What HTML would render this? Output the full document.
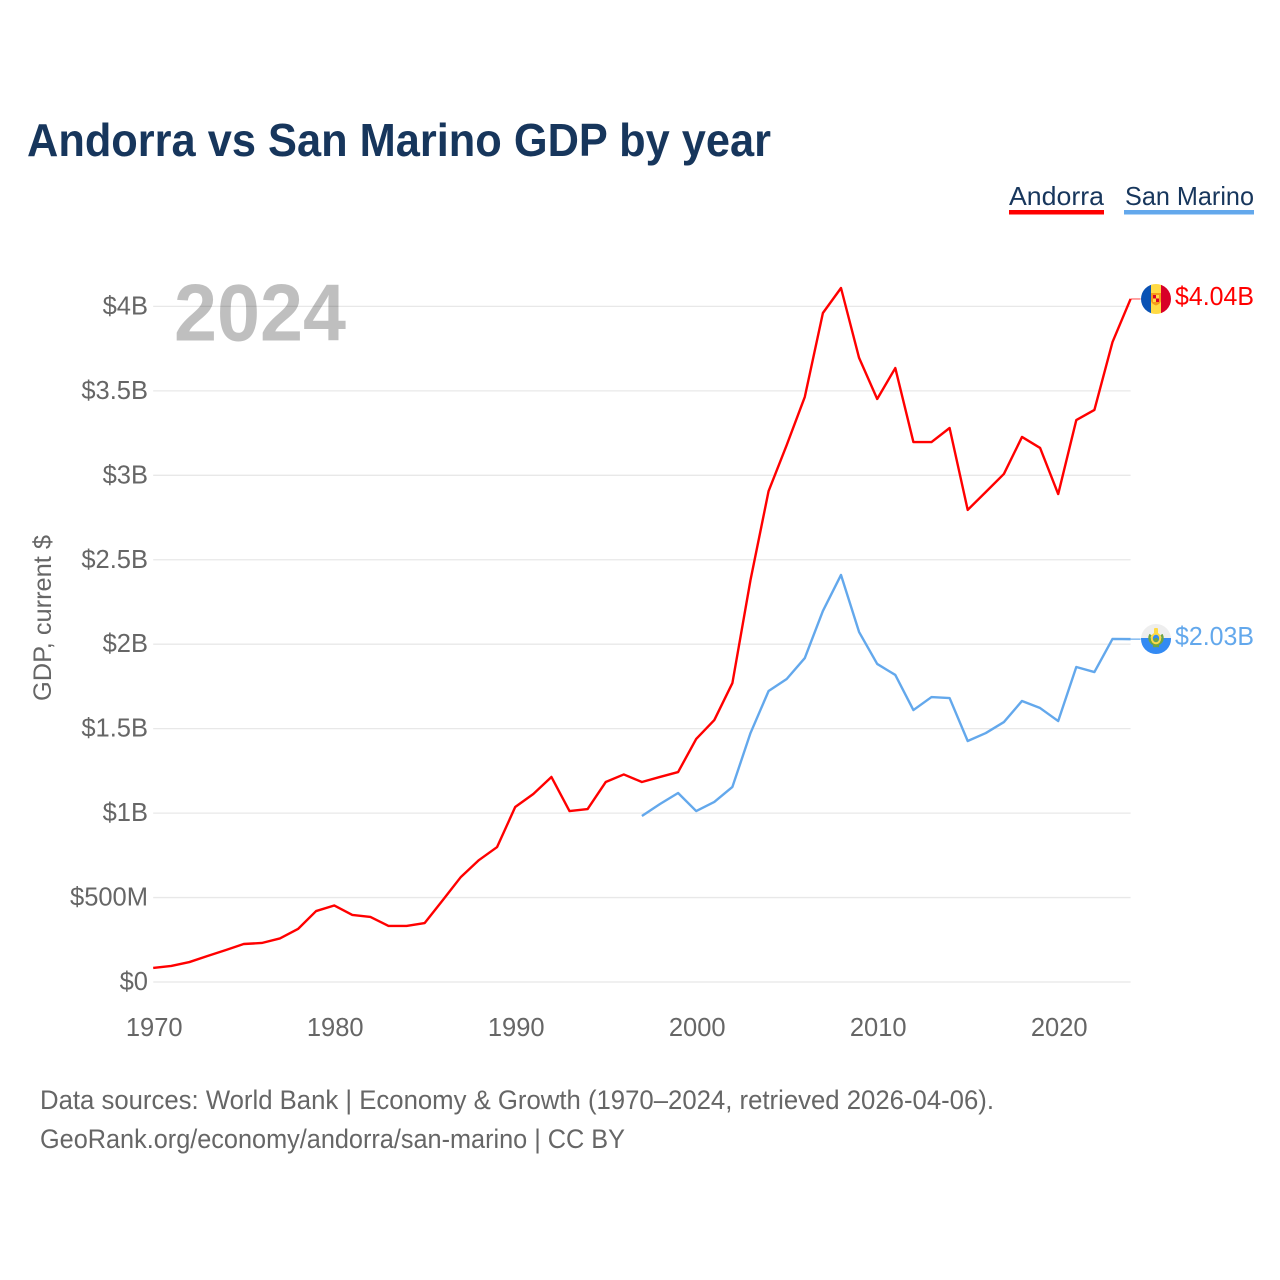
<!DOCTYPE html>
<html lang="en">
<head>
<meta charset="utf-8">
<title>Andorra vs San Marino GDP by year</title>
<style>
html,body{margin:0;padding:0;background:#fff;width:1280px;height:1280px;overflow:hidden}
svg{display:block}
text{font-family:"Liberation Sans",sans-serif}
</style>
</head>
<body>
<svg id="chart" xmlns="http://www.w3.org/2000/svg" width="1280" height="1280" viewBox="0 0 1280 1280">
  <rect width="1280" height="1280" fill="#fff"/>
  <text x="27" y="156" font-size="46" font-weight="bold" fill="#17365c" textLength="744" lengthAdjust="spacingAndGlyphs">Andorra vs San Marino GDP by year</text>

  <g>
    <text x="1009" y="205" font-size="26" fill="#17365c" textLength="95" lengthAdjust="spacingAndGlyphs">Andorra</text>
    <rect x="1009" y="210" width="95" height="4.5" fill="#ff0000"/>
  </g>
  <g>
    <text x="1125" y="205" font-size="26" fill="#17365c" textLength="129" lengthAdjust="spacingAndGlyphs">San Marino</text>
    <rect x="1124" y="210" width="130" height="4.5" fill="#63a8ec"/>
  </g>

  <g id="grid"></g>
  <g id="yTicks"></g>
  <g id="xTicks"></g>

  <text transform="translate(51 701) rotate(-90)" font-size="25" fill="#666" textLength="166" lengthAdjust="spacingAndGlyphs">GDP, current $</text>
  <text x="174" y="340.500" font-size="81" font-weight="bold" fill="#000" fill-opacity="0.25" textLength="172" lengthAdjust="spacingAndGlyphs">2024</text>

  <g id="series"></g>

  <defs>
    <clipPath id="clipAd"><circle cx="1156" cy="299" r="15"/></clipPath>
    <clipPath id="clipSm"><circle cx="1156" cy="639" r="15"/></clipPath>
  </defs>

  <g clip-path="url(#clipAd)">
    <rect x="1141" y="284" width="10.5" height="30" fill="#0a52b4"/>
    <rect x="1151" y="284" width="10" height="30" fill="#ffda44"/>
    <rect x="1161" y="284" width="10" height="30" fill="#d80027"/>
    <path d="M1151 293h10v7.500q0 3-5 5q-5-2-5-5z" fill="#f59a1a"/>
    <rect x="1153" y="295" width="3" height="3.500" fill="#d80027"/>
    <rect x="1156" y="295" width="3" height="3.500" fill="#ffda44"/>
    <rect x="1153" y="298.500" width="3" height="3.500" fill="#ffda44"/>
    <rect x="1156" y="298.500" width="3" height="3.500" fill="#d80027"/>
  </g>
  <g clip-path="url(#clipSm)">
    <rect x="1141" y="624" width="30" height="14.500" fill="#eeeeee"/>
    <rect x="1141" y="638" width="30" height="16" fill="#338af3"/>
    <path d="M1150.500 634.500a6.500 6.500 0 1 0 11 0" fill="none" stroke="#6da544" stroke-width="2.400"/>
    <rect x="1154" y="628" width="4" height="6" rx="1" fill="#ffda44"/>
    <ellipse cx="1156" cy="638.500" rx="4.200" ry="4.800" fill="#338af3" stroke="#ffda44" stroke-width="2"/>
    <ellipse cx="1156" cy="640" rx="2.500" ry="2" fill="#6da544"/>
    <rect x="1153" y="645" width="6" height="2.200" fill="#6da544"/>
  </g>

  <text x="1175" y="305" font-size="26" fill="#ff0000" textLength="79" lengthAdjust="spacingAndGlyphs">$4.04B</text>
  <text x="1175" y="645" font-size="26" fill="#63a8ec" textLength="79" lengthAdjust="spacingAndGlyphs">$2.03B</text>

  <text x="40" y="1109" font-size="27" fill="#666" textLength="954" lengthAdjust="spacingAndGlyphs">Data sources: World Bank | Economy &amp; Growth (1970–2024, retrieved 2026-04-06).</text>
  <a><text x="40" y="1148" font-size="27" fill="#666" textLength="585" lengthAdjust="spacingAndGlyphs">GeoRank.org/economy/andorra/san-marino | CC BY</text></a>
</svg>
<script>
const yearsAndorra = [1970,1971,1972,1973,1974,1975,1976,1977,1978,1979,1980,1981,1982,1983,1984,1985,1986,1987,1988,1989,1990,1991,1992,1993,1994,1995,1996,1997,1998,1999,2000,2001,2002,2003,2004,2005,2006,2007,2008,2009,2010,2011,2012,2013,2014,2015,2016,2017,2018,2019,2020,2021,2022,2023,2024];
const gdpAndorra = [0.083,0.095,0.118,0.154,0.189,0.225,0.231,0.258,0.314,0.420,0.453,0.397,0.385,0.332,0.332,0.349,0.485,0.622,0.722,0.799,1.036,1.113,1.214,1.012,1.024,1.184,1.229,1.184,1.214,1.243,1.439,1.551,1.770,2.380,2.907,3.179,3.464,3.961,4.109,3.695,3.452,3.635,3.197,3.197,3.280,2.795,2.901,3.008,3.227,3.162,2.889,3.327,3.387,3.789,4.044];
const yearsSanMarino = [1997,1998,1999,2000,2001,2002,2003,2004,2005,2006,2007,2008,2009,2010,2011,2012,2013,2014,2015,2016,2017,2018,2019,2020,2021,2022,2023,2024];
const gdpSanMarino = [0.983,1.054,1.119,1.012,1.066,1.155,1.474,1.723,1.794,1.918,2.197,2.410,2.072,1.883,1.818,1.610,1.687,1.681,1.427,1.474,1.539,1.664,1.622,1.545,1.865,1.835,2.031,2.030];
const yTickValues = [0,0.5,1,1.5,2,2.5,3,3.5,4];
const yTickLabels = ["$0","$500M","$1B","$1.5B","$2B","$2.5B","$3B","$3.5B","$4B"];
const xTickValues = [1970,1980,1990,2000,2010,2020];

const NS = "http://www.w3.org/2000/svg";
function xScale(year){ return 153.2 + (year - 1970) * 18.1; }
function yScale(v){ return 982 - v * 168.9; }

const grid = document.getElementById("grid");
const yTicks = document.getElementById("yTicks");
const xTicks = document.getElementById("xTicks");
const seriesGroup = document.getElementById("series");

yTickValues.forEach(function(v, i){
  const line = document.createElementNS(NS, "line");
  
  
  line.setAttribute("x1", xScale(1970));
  line.setAttribute("x2", xScale(2024));
  line.setAttribute("y1", yScale(v));
  line.setAttribute("y2", yScale(v));
  line.setAttribute("stroke", "#e8e8e8");
  line.setAttribute("stroke-width", "1.3");
  grid.appendChild(line);

  const label = document.createElementNS(NS, "text");
  
  
  label.setAttribute("x", 148);
  label.setAttribute("y", yScale(v) + 8);
  label.setAttribute("text-anchor", "end");
  label.setAttribute("font-size", "25.5");
  label.setAttribute("fill", "#666");
  label.textContent = yTickLabels[i];
  yTicks.appendChild(label);
});

xTickValues.forEach(function(year){
  const label = document.createElementNS(NS, "text");
  
  
  label.setAttribute("x", xScale(year) + 1);
  label.setAttribute("y", 1036);
  label.setAttribute("text-anchor", "middle");
  label.setAttribute("font-size", "25.5");
  label.setAttribute("fill", "#666");
  label.textContent = String(year);
  xTicks.appendChild(label);
});

function pathFor(years, values){
  return values.map(function(v, i){
    return (i ? "L" : "M") + xScale(years[i]).toFixed(2) + " " + yScale(v).toFixed(2);
  }).join(" ");
}

const lineSanMarino = document.createElementNS(NS, "path");


lineSanMarino.setAttribute("d", pathFor(yearsSanMarino, gdpSanMarino));
lineSanMarino.setAttribute("fill", "none");
lineSanMarino.setAttribute("stroke", "#63a8ec");
lineSanMarino.setAttribute("stroke-width", "2.4");
lineSanMarino.setAttribute("stroke-linejoin", "round");
seriesGroup.appendChild(lineSanMarino);

const lineAndorra = document.createElementNS(NS, "path");


lineAndorra.setAttribute("d", pathFor(yearsAndorra, gdpAndorra));
lineAndorra.setAttribute("fill", "none");
lineAndorra.setAttribute("stroke", "#ff0000");
lineAndorra.setAttribute("stroke-width", "2.4");
lineAndorra.setAttribute("stroke-linejoin", "round");
seriesGroup.appendChild(lineAndorra);

const leaderAndorra = document.createElementNS(NS, "line");


leaderAndorra.setAttribute("x1", xScale(2024));
leaderAndorra.setAttribute("x2", xScale(2024) + 10);
leaderAndorra.setAttribute("y1", yScale(gdpAndorra[gdpAndorra.length - 1]));
leaderAndorra.setAttribute("y2", yScale(gdpAndorra[gdpAndorra.length - 1]));
leaderAndorra.setAttribute("stroke", "#ff0000");
leaderAndorra.setAttribute("stroke-opacity", "0.6");
leaderAndorra.setAttribute("stroke-width", "1.2");
seriesGroup.appendChild(leaderAndorra);

const leaderSanMarino = document.createElementNS(NS, "line");


leaderSanMarino.setAttribute("x1", xScale(2024));
leaderSanMarino.setAttribute("x2", xScale(2024) + 10);
leaderSanMarino.setAttribute("y1", yScale(gdpSanMarino[gdpSanMarino.length - 1]));
leaderSanMarino.setAttribute("y2", yScale(gdpSanMarino[gdpSanMarino.length - 1]));
leaderSanMarino.setAttribute("stroke", "#63a8ec");
leaderSanMarino.setAttribute("stroke-width", "1.2");
seriesGroup.appendChild(leaderSanMarino);
</script>
</body>
</html>
